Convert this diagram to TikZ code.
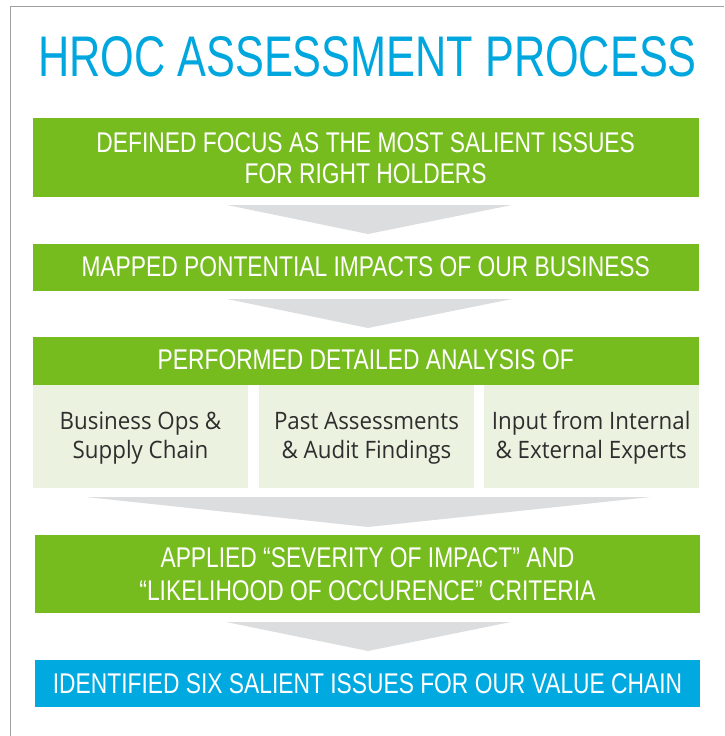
\documentclass[tikz,border=0pt]{standalone}
\usepackage{fontspec}
\setmainfont{Liberation Sans}
\newfontfamily\titlefont{Liberation Sans}[FakeStretch=0.755]
\newfontfamily\barfont{Liberation Sans}[FakeStretch=0.8]
\newfontfamily\boxfont{Open Sans}[FakeStretch=0.93]
\definecolor{hgreen}{HTML}{77BC1F}
\definecolor{hblue}{HTML}{00A9E0}
\definecolor{htitle}{HTML}{00A6DE}
\definecolor{hlight}{HTML}{EBF3E0}
\definecolor{hgrey}{HTML}{DCDDDE}
\definecolor{hborder}{HTML}{A0A0A0}
\definecolor{htext}{HTML}{2E2E2E}
\begin{document}
\begin{tikzpicture}[x=1pt,y=-1pt,
  bar/.style={fill=hgreen,draw=none},
  finalbar/.style={fill=hblue,draw=none},
  lightbox/.style={fill=hlight,draw=none},
  funnel/.style={fill=hgrey,draw=none},
  bartext/.style={anchor=base,inner sep=0pt,text=white,font=\barfont\fontsize{28.5}{32}\selectfont},
  boxtext/.style={anchor=base,inner sep=0pt,text=htext,font=\boxfont\fontsize{24}{29}\selectfont},
]
\useasboundingbox (0,0) rectangle (724,736);
% border
\draw[hborder,line width=1pt] (10.5,736) -- (10.5,6) -- (724,6);
% title
\node[anchor=base,inner sep=0pt,text=htitle,font=\titlefont\fontsize{57.3}{60}\selectfont] (title) at (367.5,76) {HROC ASSESSMENT PROCESS};
% bar 1
\path[bar] (33,118) rectangle (698.5,197);
\node[bartext] (t1a) at (365.7,152) {DEFINED FOCUS AS THE MOST SALIENT ISSUES};
\node[bartext] (t1b) at (365.7,183) {FOR RIGHT HOLDERS};
\path[funnel] (227,205) -- (512,205) -- (368,234) -- cycle;
% bar 2
\path[bar] (33,244) rectangle (698.5,291);
\node[bartext] (t2) at (365.7,276) {MAPPED PONTENTIAL IMPACTS OF OUR BUSINESS};
\path[funnel] (227,299) -- (512,299) -- (368,328) -- cycle;
% bar 3
\path[bar] (33,337) rectangle (698.5,385);
\node[bartext] (t3) at (365.7,369) {PERFORMED DETAILED ANALYSIS OF};
\path[lightbox] (33,385) rectangle (248,488);
\path[lightbox] (259,385) rectangle (474,488);
\path[lightbox] (484,385) rectangle (698.5,488);
\node[boxtext] (b1a) at (140.5,429) {Business Ops \&};
\node[boxtext] (b1b) at (140.5,458) {Supply Chain};
\node[boxtext] (b2a) at (366.5,429) {Past Assessments};
\node[boxtext] (b2b) at (366.5,458) {\& Audit Findings};
\node[boxtext] (b3a) at (591.2,429) {Input from Internal};
\node[boxtext] (b3b) at (591.2,458) {\& External Experts};
\path[funnel] (86,497) -- (651,497) -- (368,527) -- cycle;
% bar 4
\path[bar] (35,535) rectangle (700,613);
\node[bartext] (t4a) at (367.5,567) {APPLIED “SEVERITY OF IMPACT” AND};
\node[bartext] (t4b) at (367.5,600) {“LIKELIHOOD OF OCCURENCE” CRITERIA};
\path[funnel] (226,622) -- (511,622) -- (368,651) -- cycle;
% final bar
\path[finalbar] (35,660) rectangle (700,707);
\node[bartext] (t5) at (367.5,693) {IDENTIFIED SIX SALIENT ISSUES FOR OUR VALUE CHAIN};
\end{tikzpicture}
\end{document}
